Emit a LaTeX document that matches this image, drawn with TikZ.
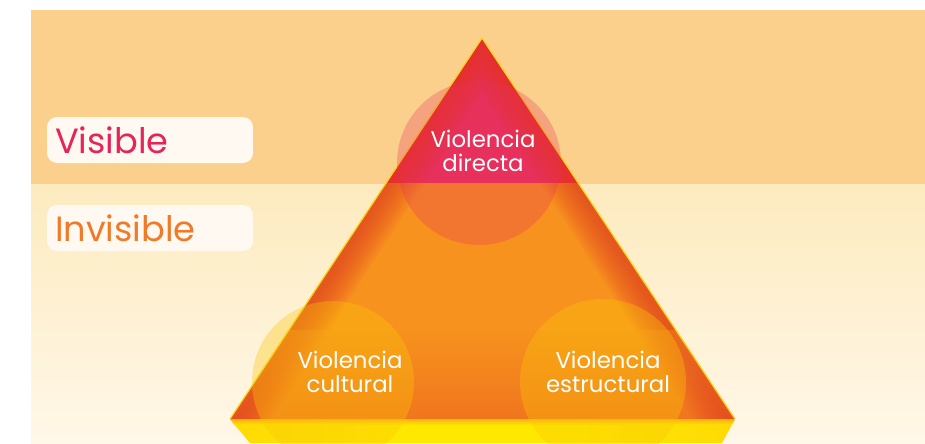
\documentclass[tikz,border=0pt]{standalone}
\usepackage{fontspec}
\setmainfont{Poppins}
\usepackage{tikz}
\usetikzlibrary{positioning}

\definecolor{bandtop}{HTML}{FBCF8C}
\definecolor{creamhi}{HTML}{FDEBBF}
\definecolor{creamlo}{HTML}{FFF7E8}
\definecolor{pyrorange}{HTML}{F7921E}
\definecolor{pyredge}{HTML}{E5421E}
\definecolor{pyrpink}{HTML}{E8305C}
\definecolor{pyryellow}{HTML}{FFE800}
\definecolor{rimyellow}{HTML}{F8D81A}
\definecolor{visred}{HTML}{E6245C}
\definecolor{invorange}{HTML}{F07A2A}
\definecolor{tagfill}{HTML}{FFF9F1}
\pgfdeclarehorizontalshading{baseband}{100bp}{color(0bp)=(pyrorange); color(22bp)=(pyryellow!80!pyrorange); color(40bp)=(pyryellow); color(60bp)=(pyryellow); color(78bp)=(pyryellow!80!pyrorange); color(100bp)=(pyrorange)}

\begin{document}
\begin{tikzpicture}[x=0.02cm, y=-0.02cm,
	tag/.style={fill=tagfill, rounded corners=0.2cm, minimum height=0.92cm, text width=3.8cm, inner xsep=0.16cm, align=left, font=\fontsize{20pt}{20pt}\selectfont},
	lbl/.style={text=white, align=center, font=\fontsize{13pt}{14pt}\selectfont}]
	\useasboundingbox (0,0) rectangle (925,443);
	\fill[white] (0,0) rectangle (925,443);
	\fill[bandtop] (31,10) rectangle (925,184);
	\shade[top color=creamhi, bottom color=creamlo] (31,184) rectangle (925,443);
	% pyramid
	\fill[pyrorange] (482,38) -- (230,419) -- (735,419) -- cycle;
	\begin{scope}
		\clip (482,38) -- (230,419) -- (735,419) -- cycle;
		\fill[pyrpink] (0,0) rectangle (925,183);
		\foreach \w in {3,6,...,60}
			\draw[pyredge, line width=\w*0.02cm, opacity=.05] (230,430) -- (482,38) -- (735,430);
		\shade[bottom color=pyredge, top color=pyrorange, opacity=.35] (200,330) rectangle (760,419);
	\end{scope}
	\draw[rimyellow, line width=0.7pt] (230,419) -- (482,38) -- (735,419);
	\shade[shading=baseband] (230,419) -- (735,419) -- (722,443) -- (250,443) -- cycle;
	\shade[top color=pyrorange, bottom color=pyryellow, opacity=.6] (230,419) -- (735,419) -- (732,425) -- (234,425) -- cycle;
	% circles
	\fill[pyrpink, opacity=.28] (479,163) circle [radius=82];
	\fill[yellow!60!orange, opacity=.35] (333,382) circle [radius=81];
	\fill[yellow!60!orange, opacity=.35] (603,382) circle [radius=83];
	% labels
	\node[tag, text=visred] (visible) at (150,140) {Visible};
	\node[tag, text=invorange] (invisible) at (150,228) {Invisible};
	\node[lbl] (directa) at (483,151) {Violencia\\directa};
	\node[lbl] (cultural) at (350,372) {Violencia\\cultural};
	\node[lbl] (estructural) at (608,372) {Violencia\\estructural};
\end{tikzpicture}
\end{document}
